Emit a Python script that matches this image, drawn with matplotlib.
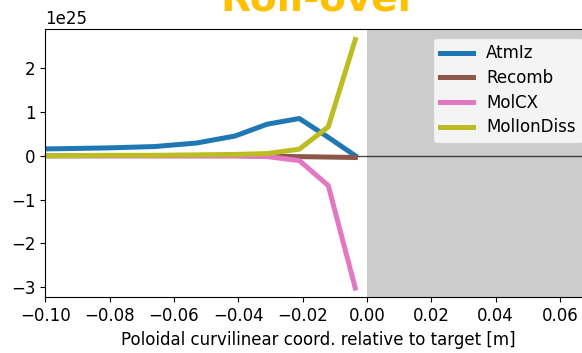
import numpy as np
import matplotlib
matplotlib.use("Agg")
import matplotlib.pyplot as plt

# Poloidal position relative to target [m]
s_pol = [-0.118, -0.096, -0.080, -0.066, -0.053, -0.041, -0.031, -0.021, -0.012, -0.0036]

# Source terms [1e25]
atmiz = [0.14, 0.16, 0.18, 0.21, 0.29, 0.45, 0.72, 0.85, 0.42, 0.0]
recomb = [0.0, 0.0, 0.0, 0.0, 0.0, 0.0, -0.01, -0.02, -0.03, -0.04]
molcx = [0.0, 0.0, 0.0, 0.0, 0.0, 0.0, -0.02, -0.11, -0.68, -3.02]
molion = [0.0, 0.0, 0.01, 0.01, 0.02, 0.03, 0.05, 0.15, 0.66, 2.65]

series = {
    "AtmIz": (atmiz, "tab:blue"),
    "Recomb": (recomb, "tab:brown"),
    "MolCX": (molcx, "tab:pink"),
    "MolIonDiss": (molion, "tab:olive"),
}

fig = plt.figure(figsize=(5.82, 3.53), dpi=100)
ax = fig.add_axes([0.0777, 0.1578, 0.9395, 0.761])

ax.axvspan(0, 0.2, color="0.8", lw=0)
ax.axhline(0, color="k", lw=1, alpha=0.7)

x = np.array(s_pol)
for name, (vals, col) in series.items():
    ax.plot(x, np.array(vals) * 1e25, color=col, lw=3.6, label=name)

ax.set_xlim(-0.1, 0.07)
ax.set_ylim(-3.23e25, 2.9e25)
ax.set_xticks([-0.10, -0.08, -0.06, -0.04, -0.02, 0.00, 0.02, 0.04, 0.06])
ax.tick_params(labelsize=12)
ax.yaxis.get_offset_text().set_fontsize(12)
ax.set_xlabel("Poloidal curvilinear coord. relative to target [m]", fontsize=12)
ax.set_title("Roll-over", fontsize=28, fontweight="bold", color="#FFC000", pad=13)

ax.legend(loc="upper left", bbox_to_anchor=(0.744, 0.893),
          bbox_transform=fig.transFigure, borderaxespad=0,
          labelspacing=0.4, fontsize=12)

fig.savefig("out.png", dpi=100)
